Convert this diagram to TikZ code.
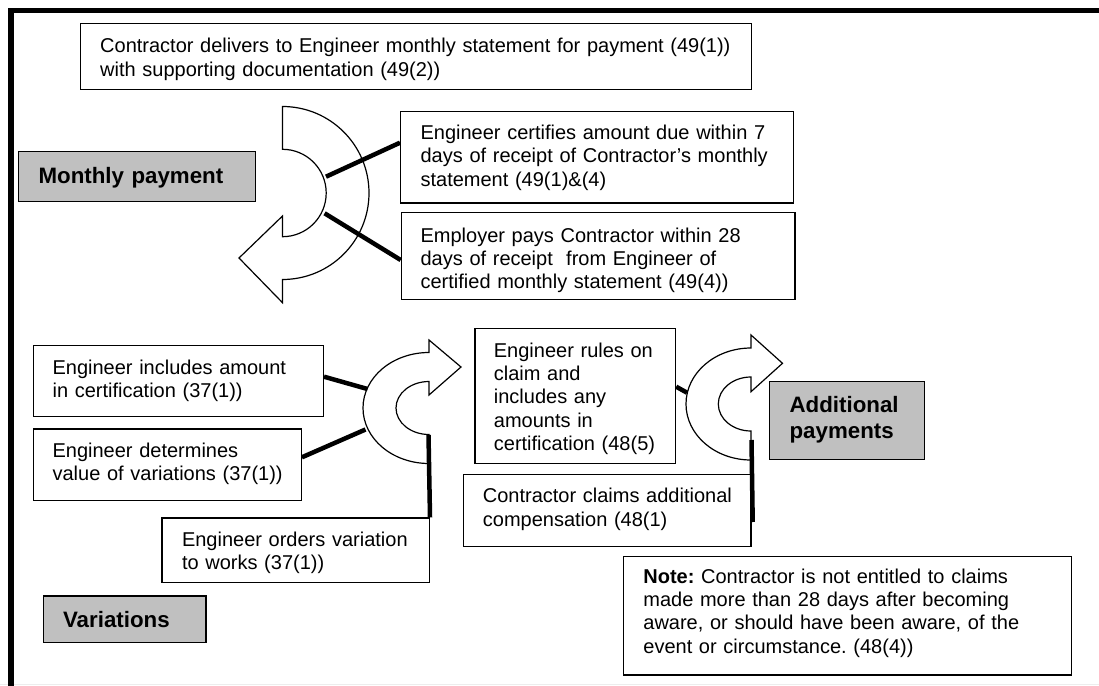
\documentclass[tikz,border=0pt]{standalone}
\usepackage{fontspec}
\setmainfont{Liberation Sans}
\usetikzlibrary{calc}
\definecolor{lblgray}{RGB}{192,192,192}
\newcommand\tb[1]{\begin{tabular}[t]{@{}l@{}}#1\end{tabular}}
\frenchspacing
\begin{document}
\begin{tikzpicture}[x=1bp,y=-1bp,
  tbox/.style={draw, line width=1.2bp, anchor=north west, inner ysep=0pt, fill=white, align=left,
    font=\fontsize{20bp}{23.3bp}\selectfont},
  lbox/.style={tbox, fill=lblgray, font=\fontsize{22.3bp}{26.6bp}\selectfont\bfseries},
  conn/.style={line width=4.5bp},
  arw/.style={draw, line width=1.2bp, fill=white, line join=miter},
  frame/.style={line width=5.5bp, line join=miter}]
\useasboundingbox (0,0) rectangle (1099,686);
\fill[white] (0,0) rectangle (1099,686);
\draw[black!7, line width=1.5bp] (0,684.5) -- (1099,684.5);
\draw[frame] (11,686) -- (11,10.3) -- (1099,10.3);

% curved arrows
\path[arw] (282.5,149.3) -- (282.5,106.5) arc[start angle=-90, end angle=90, radius=86.5]
  -- (282.5,302.7) -- (239,258) -- (282.5,216) -- (282.5,236.7)
  arc[start angle=90, end angle=-90, radius=43.7] -- cycle;
\path[arw] (429,463.5) arc[start angle=90, end angle=270, x radius=66, y radius=55.5]
  -- (429,340) -- (461,367) -- (429,395) -- (429,381.5)
  arc[start angle=270, end angle=90, x radius=33, y radius=26.5] -- cycle;
\path[arw] (751,460) arc[start angle=90, end angle=270, x radius=65, y radius=56]
  -- (751,335) -- (782.5,363.3) -- (751,391.7) -- (751,377)
  arc[start angle=270, end angle=90, x radius=32.7, y radius=27] -- cycle;

% boxes
\node[tbox, inner xsep=19.6bp, text width=631.4bp, text height=29bp, text depth=36.7bp] (deliv) at (80,23.3)
  {\tb{Contractor delivers to Engineer monthly statement for payment (49(1))\\with supporting documentation (49(2))}};
\node[tbox, inner xsep=20bp, text width=352.6bp, text height=28.3bp, text depth=63.3bp] (cert) at (400,110.7)
  {\tb{Engineer certifies amount due within 7\\days of receipt of Contractor’s monthly\\statement (49(1)\&(4)}};
\node[tbox, inner xsep=19.3bp, text width=355.1bp, text height=30bp, text depth=57.3bp] (pays) at (400.7,211.7)
  {\tb{Employer pays Contractor within 28\\days of receipt~ from Engineer of\\certified monthly statement (49(4))}};
\node[tbox, inner xsep=19.4bp, text width=251.4bp, text height=28.5bp, text depth=42.2bp] (incl) at (32.6,345)
  {\tb{Engineer includes amount\\in certification (37(1))}};
\node[tbox, inner xsep=19.4bp, text width=229.3bp, text height=28.4bp, text depth=43.3bp] (det) at (32.6,428.3)
  {\tb{Engineer determines\\value of variations (37(1))}};
\node[tbox, inner xsep=20bp, text width=227.4bp, text height=28.4bp, text depth=36bp] (ord) at (161.4,517.3)
  {\tb{Engineer orders variation\\to works (37(1))}};
\node[tbox, inner xsep=19bp, text width=162.7bp, text height=29bp, text depth=106bp] (rules) at (474.3,327.7)
  {\tb{Engineer rules on\\claim and\\includes any\\amounts in\\certification (48(5)}};
\node[tbox, inner xsep=19.6bp, text width=248.4bp, text height=28.3bp, text depth=43.7bp] (claims) at (462.7,474)
  {\tb{Contractor claims additional\\compensation (48(1)}};
\node[tbox, inner xsep=20bp, text width=407.9bp, text height=27bp, text depth=91.6bp] (note) at (622.8,555.7)
  {\tb{\textbf{Note:} Contractor is not entitled to claims\\made more than 28 days after becoming\\aware, or should have been aware, of the\\event or circumstance. (48(4))}};
\node[lbox, inner xsep=20.5bp, text width=196.5bp, text height=32bp, text depth=18bp] (mon) at (17.5,150.7)
  {\tb{Monthly payment}};
\node[lbox, inner xsep=19.7bp, text width=123.1bp, text height=31.4bp, text depth=15.3bp] (var) at (42.8,595.3)
  {\tb{Variations}};
\node[lbox, inner xsep=20.2bp, text width=114.8bp, text height=30.7bp, text depth=47.3bp] (addl) at (768.8,381)
  {\tb{Additional\\payments}};

% connector end points on the curved arrows
\coordinate (m1a) at (326,176.7);
\coordinate (m1b) at (324.6,213.3);
\coordinate (v1a) at (367.5,389);
\coordinate (v1b) at (365.5,429.5);
\coordinate (v1c) at (428.5,435);
\coordinate (a1a) at (687,392.7);
\coordinate (a1b) at (751.5,440);

% connectors
\draw[conn] (m1a) -- ($(cert.north west)+(0,32)$);
\draw[conn] (m1b) -- ($(pays.north west)+(0,48.3)$);
\draw[conn] ($(incl.north east)+(0,31.7)$) -- (v1a);
\draw[conn] ($(det.north east)+(0,29)$) -- (v1b);
\draw[conn] (v1c) -- (ord.north east);
\draw[conn] ($(rules.north east)+(0,59)$) -- (a1a);
\draw[conn] (a1b) -- ($(claims.north east)+(1.2,48)$);
\end{tikzpicture}
\end{document}
